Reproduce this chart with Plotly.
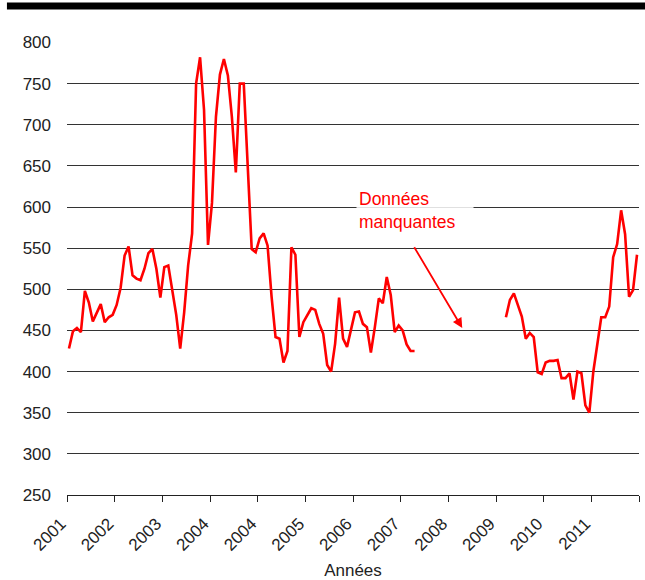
import plotly.graph_objects as go

# Monthly series; None marks the months with no data
values = [
    428, 449, 453, 448, 498, 484, 461, 472, 482, 460, 466, 469,
    481, 502, 541, 552, 517, 513, 511, 525, 544, 549, 525, 490,
    527, 529, 497, 469, 428, 472, 529, 568, 750, 782, 718, 554,
    605, 710, 761, 780, 760, 710, 642, 750, 750, 643, 549, 545,
    562, 568, 553, 491, 442, 440, 411, 425, 551, 542, 442, 460,
    468, 477, 475, 458, 446, 408, 400, 434, 490, 440, 430, 450,
    472, 473, 458, 454, 423, 454, 489, 483, 515, 493, 448, 456,
    450, 433, 425, 425,
] + [None] * 22 + [
    466, 487, 495, 482, 467, 440, 447, 442, 399, 397, 411, 413,
    413, 414, 392, 392, 398, 366, 400, 398, 359, 350, 400, 433,
    466, 466, 479, 539, 555, 596, 567, 491, 499, 542,
]
months = list(range(len(values)))

year_labels = ["2001", "2002", "2003", "2004", "2004", "2005", "2006",
               "2007", "2008", "2009", "2010", "2011", ""]
year_ticks = [12 * k - 0.5 for k in range(len(year_labels))]

y_ticks = list(range(250, 801, 50))

FONT = "Liberation Sans, Arial, sans-serif"

fig = go.Figure()
fig.add_trace(go.Scatter(
    x=months, y=values, mode="lines",
    line=dict(color="#FF0000", width=2.6),
    connectgaps=False, hoverinfo="skip",
))

# Label for the gap in the data, with an arrow pointing into it
fig.add_annotation(
    x=72.3, y=625, xref="x", yref="y", xanchor="left", yanchor="top",
    text="Données<br>manquantes", showarrow=False, align="left",
    font=dict(family=FONT, size=17.5, color="#FF0000"),
    bgcolor="rgba(255,255,255,0.85)", width=112, borderpad=2,
)
fig.add_annotation(
    x=99, y=453, ax=86.7, ay=553, xref="x", yref="y", axref="x", ayref="y",
    text="", showarrow=True, arrowhead=2, arrowsize=1.1, arrowwidth=1.8,
    arrowcolor="#FF0000", standoff=0,
)

# Black band along the top of the page
fig.add_shape(type="rect", xref="paper", yref="paper",
              x0=-0.105, x1=1.02, y0=1.072, y1=1.087,
              fillcolor="black", line=dict(width=0), layer="above")

fig.update_layout(
    width=645, height=580,
    margin=dict(l=67, r=6, t=42, b=85),
    paper_bgcolor="white", plot_bgcolor="white",
    showlegend=False,
    font=dict(family=FONT, size=17, color="#222"),
)
fig.update_xaxes(
    range=[-0.5, 143.5], tickmode="array", tickvals=year_ticks, ticktext=year_labels,
    tickangle=-45, ticks="outside", ticklen=6, tickcolor="#222", tickwidth=1,
    showline=True, linecolor="#222", linewidth=1.2, showgrid=False, zeroline=False,
    ticklabelshift=-6, ticklabelstandoff=5, automargin=False,
    title=dict(text="Années", font=dict(family=FONT, size=17), standoff=10),
    tickfont=dict(family=FONT, size=17),
)
fig.update_yaxes(
    range=[250, 800.6], tickmode="array", tickvals=y_ticks, automargin=False,
    showgrid=True, gridcolor="#333", gridwidth=1, zeroline=False, showline=False,
    ticks="", ticklabelstandoff=15, tickfont=dict(family=FONT, size=17),
)

fig.write_html("out.html")
